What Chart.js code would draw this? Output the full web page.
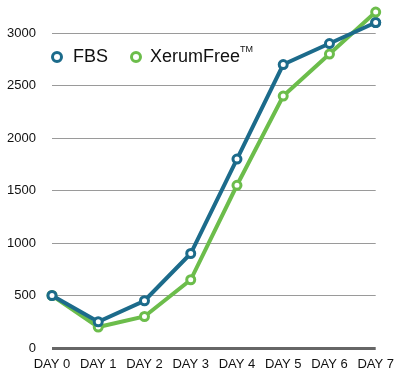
<!DOCTYPE html>
<html><head><meta charset="utf-8">
<script src="https://cdn.jsdelivr.net/npm/chart.js@4/dist/chart.umd.min.js"></script>
<style>
html,body{margin:0;padding:0;background:#fff;}
#wrap{position:relative;width:403px;height:378px;}
#legend{position:absolute;left:51px;top:46px;font-family:"Liberation Sans",Arial,sans-serif;font-size:18px;color:#111;white-space:nowrap;}
.dot{position:absolute;top:5px;width:6px;height:6px;border-radius:50%;border:3.5px solid;background:#fff;}
.lbl{position:absolute;top:0;}
sup{font-size:9px;vertical-align:top;position:relative;top:-2px;}
</style></head>
<body><div id="wrap"><canvas id="c" width="403" height="378"></canvas>
<div id="legend"></div></div>
<script>
const categories = ["DAY 0","DAY 1","DAY 2","DAY 3","DAY 4","DAY 5","DAY 6","DAY 7"];
const fbs = [500, 250, 450, 900, 1800, 2700, 2900, 3100];
const xerum = [500, 200, 300, 650, 1550, 2400, 2800, 3200];
const yTicks = [0, 500, 1000, 1500, 2000, 2500, 3000];
const seriesNames = ["FBS", "XerumFree"];
const colors = ["#1c6b8b", "#6cbd4b"];

const leg = document.getElementById('legend');
const pos = [[0,22],[79,99]];
seriesNames.forEach((n,i)=>{
  const d=document.createElement('div');d.className='dot';d.style.left=pos[i][0]+'px';d.style.borderColor=colors[i];leg.appendChild(d);
  const t=document.createElement('div');t.className='lbl';t.style.left=pos[i][1]+'px';
  t.innerHTML = n + (i===1?'<sup>TM</sup>':'');
  leg.appendChild(t);
});

const mk = (label, data, col) => ({label, data, borderColor: col, backgroundColor: '#fff',
  borderWidth: 4, pointRadius: 4, pointBorderWidth: 3, pointBorderColor: col, pointBackgroundColor:'#fff',
  tension: 0, fill: false, clip: false});

// draw points that lie above the plot area (library elements, full-canvas bounds)
const outsidePoints = {
  id: 'outsidePoints',
  afterDatasetsDraw(chart) {
    const full = { left: 0, top: 0, right: chart.width, bottom: chart.height };
    chart.data.datasets.forEach((d, i) => {
      chart.getDatasetMeta(i).data.forEach(p => {
        if (p.y < chart.chartArea.top + 6) p.draw(chart.ctx, full);
      });
    });
  }
};

new Chart(document.getElementById('c'), {
  type: 'line',
  data: { labels: categories, datasets: [mk(seriesNames[0], fbs, colors[0]), mk(seriesNames[1], xerum, colors[1])] },
  plugins: [outsidePoints],
  options: {
    responsive: false, animation: false,
    layout: { autoPadding: false, padding: { top: 2, right: 27, left: 0, bottom: 0 } },
    plugins: { legend: { display: false }, tooltip: { enabled: false } },
    scales: {
      x: {
        offset: false,
        grid: { display: false, drawTicks: false },
        border: { display: false },
        ticks: { color: '#111', font: { family: '"Liberation Sans", Arial, sans-serif', size: 13 }, padding: 9, maxRotation: 0, autoSkip: false },
        afterFit: s => { s.height = 30; }
      },
      y: {
        min: 0, max: 3088,
        afterBuildTicks: s => { s.ticks = yTicks.map(v => ({ value: v })); },
        grid: { drawTicks: false, color: c => c.tick && c.tick.value === 0 ? '#666' : '#9a9a9a', lineWidth: c => c.tick && c.tick.value === 0 ? 3 : 1 },
        border: { display: false },
        ticks: { color: '#111', padding: 16, callback: v => String(v), font: { family: '"Liberation Sans", Arial, sans-serif', size: 13 } },
        afterFit: s => { s.width = 52; }
      }
    }
  }
});
</script></body></html>
